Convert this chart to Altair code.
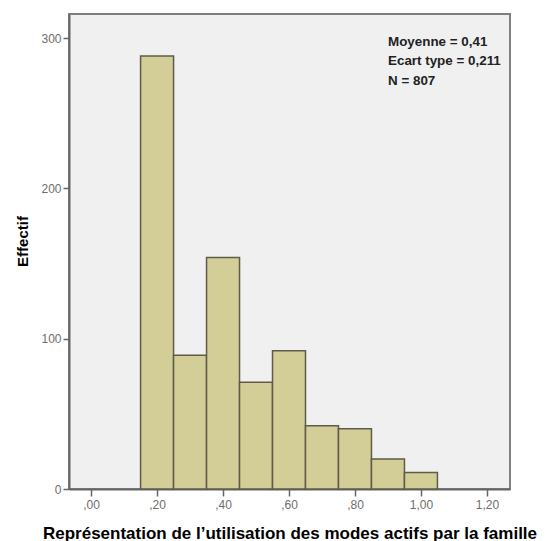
import altair as alt
import pandas as pd

bin_start = [0.15, 0.25, 0.35, 0.45, 0.55, 0.65, 0.75, 0.85, 0.95]
bin_end = [0.25, 0.35, 0.45, 0.55, 0.65, 0.75, 0.85, 0.95, 1.05]
counts = [288, 89, 154, 71, 92, 42, 40, 20, 11]
x_ticks = [0.0, 0.2, 0.4, 0.6, 0.8, 1.0, 1.2]
y_ticks = [0, 100, 200, 300]
stats_lines = ["Moyenne = 0,41", "Ecart type =  0,211", "N = 807"]

df = pd.DataFrame({"start": bin_start, "end": bin_end, "count": counts})
font = "Liberation Sans"

label_expr = ("datum.value < 1 ? replace(format(datum.value, '.2f'), '0.', ',') "
              ": replace(format(datum.value, '.2f'), '.', ',')")

bars = alt.Chart(df).mark_rect(
    fill="#D3CE97", stroke="#5E5C48", strokeWidth=1.5
).encode(
    x=alt.X("start:Q",
            scale=alt.Scale(domain=[-0.067, 1.27], nice=False, zero=False),
            axis=alt.Axis(values=x_ticks, labelExpr=label_expr, grid=False,
                          title="Représentation de l’utilisation des modes actifs par la famille",
                          titleFont=font, titleFontSize=17, titleFontWeight="bold",
                          titleColor="#000000", titleY=49, titleBaseline="alphabetic",
                          labelFont=font, labelFontSize=12, labelColor="#6E6E6E",
                          tickColor="#666666", tickSize=7, tickWidth=1.5,
                          domainColor="#666666", domainWidth=2, labelPadding=3)),
    x2="end:Q",
    y=alt.Y("count:Q",
            scale=alt.Scale(domain=[0, 316], nice=False),
            axis=alt.Axis(values=y_ticks, grid=False, title="Effectif",
                          titleFont=font, titleFontSize=15, titleFontWeight="bold",
                          titleColor="#000000", titleX=-47, titleY=227,
                          titleBaseline="middle", titleAlign="center", titleAngle=270,
                          labelFont=font, labelFontSize=12, labelColor="#6E6E6E",
                          tickColor="#666666", tickSize=6, tickWidth=1.5,
                          domainColor="#666666", domainWidth=2, labelPadding=2)),
    y2=alt.Y2(datum=0),
)

stats_df = pd.DataFrame({"line": stats_lines, "i": list(range(len(stats_lines)))})
stats = alt.Chart(stats_df).transform_calculate(
    ypos="28 + datum.i * 19.3"
).mark_text(
    align="left", baseline="middle", font=font, fontSize=13.4, fontWeight="bold",
    color="#222222"
).encode(
    x=alt.value(319),
    y=alt.Y("ypos:Q", scale=None),
    text="line:N",
)

chart = alt.layer(bars, stats).properties(
    width=441, height=475,
    autosize=alt.AutoSizeParams(type="none"),
    padding={"left": 61, "top": 6, "right": 29, "bottom": 52},
    background="#FFFFFF",
).configure_view(
    fill="#F0F0F0", stroke="#808080", strokeWidth=2
)

chart.save("out.html", embed_options={"renderer": "svg", "actions": False})
